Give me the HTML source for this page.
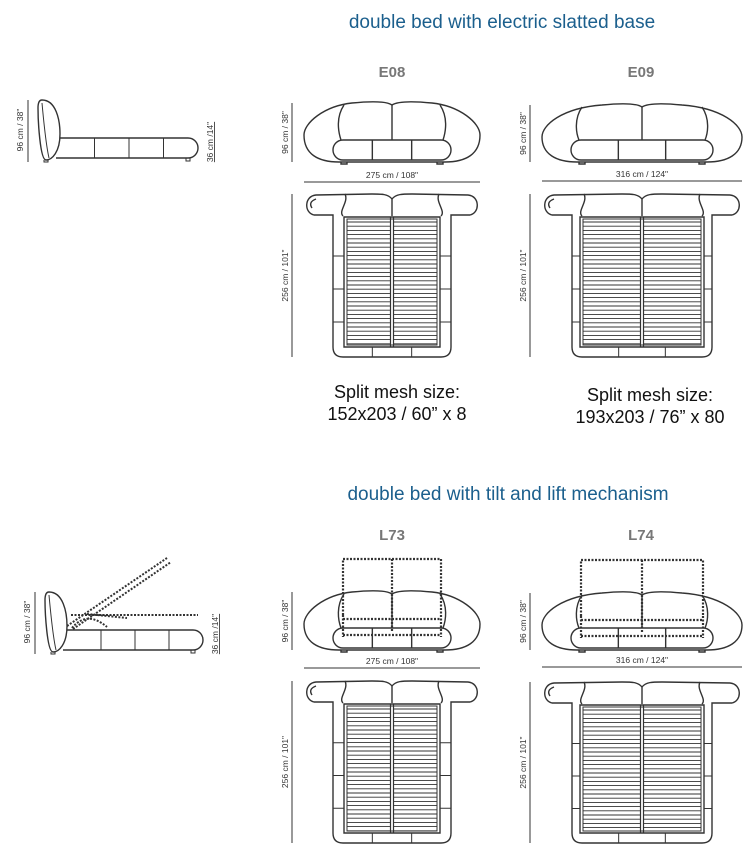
<!DOCTYPE html>
<html><head><meta charset="utf-8"><style>
html,body{margin:0;padding:0;background:#fff;}
svg{display:block;}
.t{font-family:"Liberation Sans",sans-serif;}
</style></head><body>
<svg id="s" width="755" height="858" viewBox="0 0 755 858" xmlns="http://www.w3.org/2000/svg">
<g class="t">
<text x="502" y="28" font-size="19" fill="#1b5f8d" text-anchor="middle">double bed with electric slatted base</text>
<text x="508" y="500" font-size="19" fill="#1b5f8d" text-anchor="middle">double bed with tilt and lift mechanism</text>
<text x="392" y="77" font-size="15" fill="#777" text-anchor="middle" font-weight="bold">E08</text>
<text x="641" y="77" font-size="15" fill="#777" text-anchor="middle" font-weight="bold">E09</text>
<text x="392" y="540" font-size="15" fill="#777" text-anchor="middle" font-weight="bold">L73</text>
<text x="641" y="540" font-size="15" fill="#777" text-anchor="middle" font-weight="bold">L74</text>
<text x="397" y="398" font-size="18" fill="#111" text-anchor="middle">Split mesh size:</text>
<text x="397" y="420" font-size="18" fill="#111" text-anchor="middle">152x203 / 60” x 8</text>
<text x="650" y="401" font-size="18" fill="#111" text-anchor="middle">Split mesh size:</text>
<text x="650" y="423" font-size="18" fill="#111" text-anchor="middle">193x203 / 76” x 80</text>
</g>
<g id="d" fill="none" stroke="#333" stroke-width="1.4"></g>
</svg>
<script>
var g=document.getElementById('d'),h='';
function P(d,extra){h+='<path d="'+d+'" '+(extra||'')+'/>';}
function T(x,y,s,rot){h+='<text x="'+x+'" y="'+y+'" font-size="8.5" fill="#333" stroke="none" font-family="Liberation Sans,sans-serif" text-anchor="middle"'+(rot?' transform="rotate(-90 '+x+' '+y+')"':'')+'>'+s+'</text>';}
function front(cx,hw,cw,top,bot,dashed){
  var L=cx-hw,R=cx+hw,cl=cx-cw,cr=cx+cw;
  P('M'+cx+' '+(top+2)+' C'+(cx-6)+' '+(top-2)+' '+(cx-20)+' '+(top-2)+' '+(cx-40)+' '+(top)+' C'+(L+20)+' '+(top+3)+' '+L+' '+(top+20)+' '+L+' '+(top+32)+' C'+L+' '+(bot-8)+' '+(L+14)+' '+bot+' '+(cl+6)+' '+bot+' L'+(cr-6)+' '+bot+' C'+(R-14)+' '+bot+' '+R+' '+(bot-8)+' '+R+' '+(top+32)+' C'+R+' '+(top+20)+' '+(R-20)+' '+(top+3)+' '+(cx+40)+' '+top+' C'+(cx+20)+' '+(top-2)+' '+(cx+6)+' '+(top-2)+' '+cx+' '+(top+2)+' Z');
  P('M'+cx+' '+(top+2)+' L'+cx+' '+(bot-22));
  P('M'+(cx-hw+40)+' '+(top+2)+' C'+(cl+3)+' '+(top+14)+' '+(cl+5)+' '+(top+28)+' '+(cl+8)+' '+(bot-22));
  P('M'+(cx+hw-40)+' '+(top+2)+' C'+(cr-3)+' '+(top+14)+' '+(cr-5)+' '+(top+28)+' '+(cr-8)+' '+(bot-22));
  var cy=bot-22;
  P('M'+(cl+10)+' '+cy+' L'+(cr-10)+' '+cy+' A10 10 0 0 1 '+(cr-10)+' '+(bot-2)+' L'+(cl+10)+' '+(bot-2)+' A10 10 0 0 1 '+(cl+10)+' '+cy+' Z');
  var t=(cr-cl)/3;
  P('M'+(cl+t)+' '+cy+' V'+(bot-2)+' M'+(cr-t)+' '+cy+' V'+(bot-2));
  P('M'+(cl+8)+' '+bot+' v2 h6 v-2 M'+(cr-14)+' '+bot+' v2 h6 v-2');
  if(dashed){
    var mw=(cw-10);
    h+='<g stroke-dasharray="2 1.5" stroke-width="2.2">';
    P('M'+(cx-mw)+' '+(top+23)+' V'+(top-33)+' H'+(cx+mw)+' V'+(top+23)+' M'+cx+' '+(top-33)+' V'+(top+40));
    P('M'+(cx-mw)+' '+(top+27)+' H'+(cx+mw)+' M'+(cx-mw)+' '+(top+23)+' V'+(top+45)+' M'+(cx+mw)+' '+(top+23)+' V'+(top+45));
    P('M'+(cx-mw)+' '+(top+43)+' H'+(cx+mw));
    h+='</g>';
  }
}
function topv(cx,hw,bw,mw,y0,y1){
  var L=cx-hw,R=cx+hw,bl=cx-bw,br=cx+bw,ml=cx-mw,mr=cx+mw,hb=y0+21;
  P('M'+cx+' '+(y0+5)+' C'+(cx-4)+' '+y0+' '+(cx-10)+' '+y0+' '+(cx-20)+' '+y0+' L'+(L+12)+' '+(y0+1)+' C'+L+' '+(y0+2)+' '+L+' '+(hb-2)+' '+(L+10)+' '+hb+' L'+bl+' '+hb+' L'+bl+' '+(y1-10)+' Q'+bl+' '+y1+' '+(bl+10)+' '+y1+' L'+(br-10)+' '+y1+' Q'+br+' '+y1+' '+br+' '+(y1-10)+' L'+br+' '+hb+' L'+(R-10)+' '+hb+' C'+R+' '+(hb-2)+' '+R+' '+(y0+2)+' '+(R-12)+' '+(y0+1)+' L'+(cx+20)+' '+y0+' C'+(cx+10)+' '+y0+' '+(cx+4)+' '+y0+' '+cx+' '+(y0+5));
  P('M'+(L+12)+' '+(y0+5)+' Q'+(L+4)+' '+(y0+8)+' '+(L+8)+' '+(y0+14));
  P('M'+(bl+12)+' '+y0+' C'+(bl+16)+' '+(y0+8)+' '+(bl+5)+' '+(hb-4)+' '+(bl+10)+' '+(hb+1));
  P('M'+(br-12)+' '+y0+' C'+(br-16)+' '+(y0+8)+' '+(br-5)+' '+(hb-4)+' '+(br-10)+' '+(hb+1));
  P('M'+cx+' '+(y0+5)+' V'+(y0+22));
  var my0=y0+23,my1=y1-10;
  P('M'+ml+' '+my0+' H'+mr+' V'+my1+' H'+ml+' Z');
  P('M'+(ml+3)+' '+(my0+2)+' H'+(mr-3)+' V'+(my1-2)+' H'+(ml+3)+' Z','stroke-width="1"');
  P('M'+(cx-1.5)+' '+my0+' V'+my1+' M'+(cx+1.5)+' '+my0+' V'+my1,'stroke-width="1.2"');
  var s='';for(var y=my0+5;y<my1-2;y+=4.2){s+='M'+(ml+3)+' '+y.toFixed(1)+' H'+(cx-2)+' M'+(cx+2)+' '+y.toFixed(1)+' H'+(mr-3)+' ';}
  P(s,'stroke-width="0.9"');
  var q=(y1-10-hb)/4,sd='';
  for(var i=1;i<4;i++){var yy=(hb+q*i+8).toFixed(1);sd+='M'+bl+' '+yy+' H'+ml+' M'+mr+' '+yy+' H'+br+' ';}
  var t=(br-bl)/3;sd+='M'+(bl+t)+' '+my1+' V'+y1+' M'+(br-t)+' '+my1+' V'+y1;
  P(sd,'stroke-width="1"');
}
function dims(cx,hw,ft,fb,dy,label,tt,tb,showV){
  P('M'+(cx-hw)+' '+dy+' H'+(cx+hw),'stroke-width="1"');
  T(cx,dy-4,label);
  if(showV){
    var x=cx-hw-12;
    P('M'+x+' '+ft+' V'+fb+' M'+x+' '+tt+' V'+tb,'stroke-width="1"');
    T(x-4,(ft+fb)/2,'96 cm / 38"',1);
    T(x-4,(tt+tb)/2,'256 cm / 101"',1);
  }
}
front(392,88,59,103,162,0); topv(392,88,59,48,194,357); dims(392,88,103,162,182,'275 cm / 108"',194,357,1);
front(642,100,71,105,162,0); topv(642,100,70,62,194,357); dims(642,100,105,162,181,'316 cm / 124"',194,357,1);
front(392,88,59,592,650,1); topv(392,88,59,48,681,843); dims(392,88,592,650,668,'275 cm / 108"',681,843,1);
front(642,100,71,593,650,1); topv(642,100,70,62,682,843); dims(642,100,593,650,667,'316 cm / 124"',682,843,1);
function side(x0,y0,dx,lift){
  var hbL=x0,hbR=x0+22,top=y0,bot=y0+60;
  P('M'+(hbL+4)+' '+top+' C'+(hbL+18)+' '+top+' '+(hbR)+' '+(top+20)+' '+hbR+' '+(top+34)+' C'+hbR+' '+(bot-8)+' '+(hbR-8)+' '+bot+' '+(hbL+8)+' '+bot+' C'+(hbL+2)+' '+bot+' '+hbL+' '+(top+20)+' '+hbL+' '+(top+8)+' C'+hbL+' '+(top+2)+' '+(hbL+2)+' '+top+' '+(hbL+4)+' '+top+' Z');
  P('M'+(hbL+4)+' '+(top+3)+' C'+(hbL+6)+' '+(top+25)+' '+(hbL+8)+' '+(bot-15)+' '+(hbL+11)+' '+(bot-2),'stroke-width="1"');
  var pt=y0+38,pb=bot-2,pr=x0+dx;
  P('M'+hbR+' '+pt+' H'+(pr-10)+' A10 10 0 0 1 '+(pr-10)+' '+pb+' H'+(hbR-4));
  var w=(pr-hbR)/4;P('M'+(hbR+w)+' '+pt+' V'+pb+' M'+(hbR+2*w)+' '+pt+' V'+pb+' M'+(hbR+3*w)+' '+pt+' V'+pb,'stroke-width="1"');
  P('M'+(hbL+6)+' '+bot+' v2 h4 v-2 M'+(pr-12)+' '+pb+' v3 h4 v-3','stroke-width="1"');
  var vx=x0-10;P('M'+vx+' '+top+' V'+(bot+2),'stroke-width="1"');T(vx-5,(top+bot)/2,'96 cm / 38"',1);
  var rx=pr+15;T(rx,pb-16,'<tspan text-decoration="underline">36 cm /14"</tspan>',1);
  if(lift){
    h+='<g stroke-dasharray="2 1.5" stroke-width="2">';
    P('M'+(hbR)+' '+(pt-4)+' L'+(x0+122)+' '+(y0-34)+' M'+(hbR+6)+' '+(pt-1)+' L'+(x0+126)+' '+(y0-30));
    P('M'+(hbR+4)+' '+(y0+23)+' H'+(x0+153));
    P('M'+(hbR+5)+' '+(pt-2)+' Q'+(hbR+20)+' '+(y0+18)+' '+(hbR+40)+' '+(pt-3)+' M'+(hbR+20)+' '+(y0+22)+' L'+(hbR+60)+' '+(y0+26));
    h+='</g>';
  }
}
side(38,100,160,0);
side(45,592,158,1);
g.innerHTML=h;
</script>
</body></html>
